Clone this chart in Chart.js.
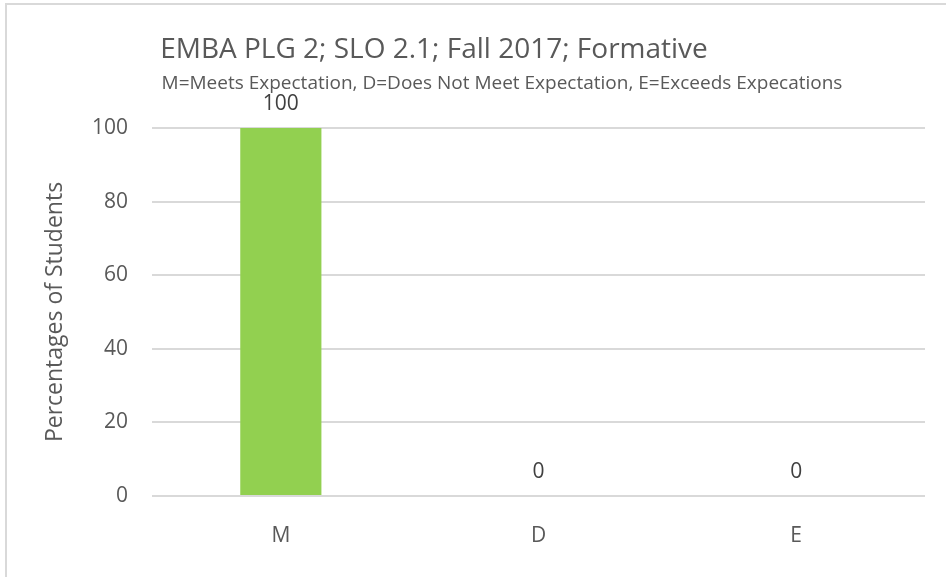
<!DOCTYPE html>
<html>
<head>
<meta charset="utf-8">
<script src="https://cdn.jsdelivr.net/npm/chart.js@4/dist/chart.umd.min.js"></script>
<style>
  body { margin: 0; background: #fff; }
  #wrap { position: relative; width: 946px; height: 577px; overflow: hidden; }
  #frame {
    position: absolute; left: 5px; top: 3px; width: 1200px; height: 800px;
    border-left: 2px solid #d9d9d9; border-top: 2px solid #d9d9d9;
    pointer-events: none;
  }
  canvas { position: absolute; left: 0; top: 0; }
</style>
</head>
<body>
<div id="wrap">
  <canvas id="sloChart" width="946" height="577"></canvas>
  <div id="frame"></div>
</div>
<script>
// chart data
const categories = ["M", "D", "E"];
const percentages = [100, 0, 0];
const chartTitle = "EMBA PLG 2; SLO 2.1; Fall 2017; Formative";
const chartSubtitle = "M=Meets Expectation, D=Does Not Meet Expectation, E=Exceeds Expecations";
const yAxisLabel = "Percentages of Students";

const FONT = "'Open Sans', 'DejaVu Sans', sans-serif";
const TEXT_GREY = "#595959";

// title, subtitle and value labels above each bar
const labelPlugin = {
  id: "labelPlugin",
  afterDraw(chart) {
    const ctx = chart.ctx;
    ctx.save();
    ctx.fillStyle = TEXT_GREY;
    ctx.textAlign = "center";
    ctx.textBaseline = "alphabetic";
    ctx.font = "28px " + FONT;
    ctx.fillText(chartTitle, 434, 58);
    ctx.font = "19px " + FONT;
    ctx.fillText(chartSubtitle, 502, 89);

    ctx.fillStyle = "#404040";
    ctx.font = "21px " + FONT;
    const meta = chart.getDatasetMeta(0);
    meta.data.forEach((bar, i) => {
      ctx.fillText(String(percentages[i]), bar.x, bar.y - 18);
    });
    ctx.restore();
  }
};

const ctx = document.getElementById("sloChart").getContext("2d");
new Chart(ctx, {
  type: "bar",
  data: {
    labels: categories,
    datasets: [
      {
        data: percentages,
        backgroundColor: "#92d050",
        borderWidth: 0,
        categoryPercentage: 1,
        barPercentage: 0.315,
      },
    ],
  },
  options: {
    responsive: false,
    animation: false,
    devicePixelRatio: 1,
    layout: { padding: { top: 128, right: 21, bottom: 0, left: 0 } },
    plugins: {
      legend: { display: false },
      tooltip: { enabled: false },
    },
    scales: {
      x: {
        grid: { display: false },
        border: { display: false },
        ticks: {
          color: TEXT_GREY,
          font: { family: FONT, size: 21 },
          padding: 19,
        },
        afterFit(scale) {
          scale.height = 81;
        },
      },
      y: {
        min: 0,
        max: 100,
        ticks: {
          stepSize: 20,
          color: TEXT_GREY,
          font: { family: FONT, size: 21 },
          padding: 24,
        },
        grid: { color: "#d9d9d9", lineWidth: 2, drawTicks: false },
        border: { display: false },
        title: {
          display: true,
          text: yAxisLabel,
          color: TEXT_GREY,
          font: { family: FONT, size: 23 },
          padding: { top: 42, bottom: 0 },
        },
        afterFit(scale) {
          scale.width = 152;
        },
      },
    },
  },
  plugins: [labelPlugin],
});
</script>
</body>
</html>
